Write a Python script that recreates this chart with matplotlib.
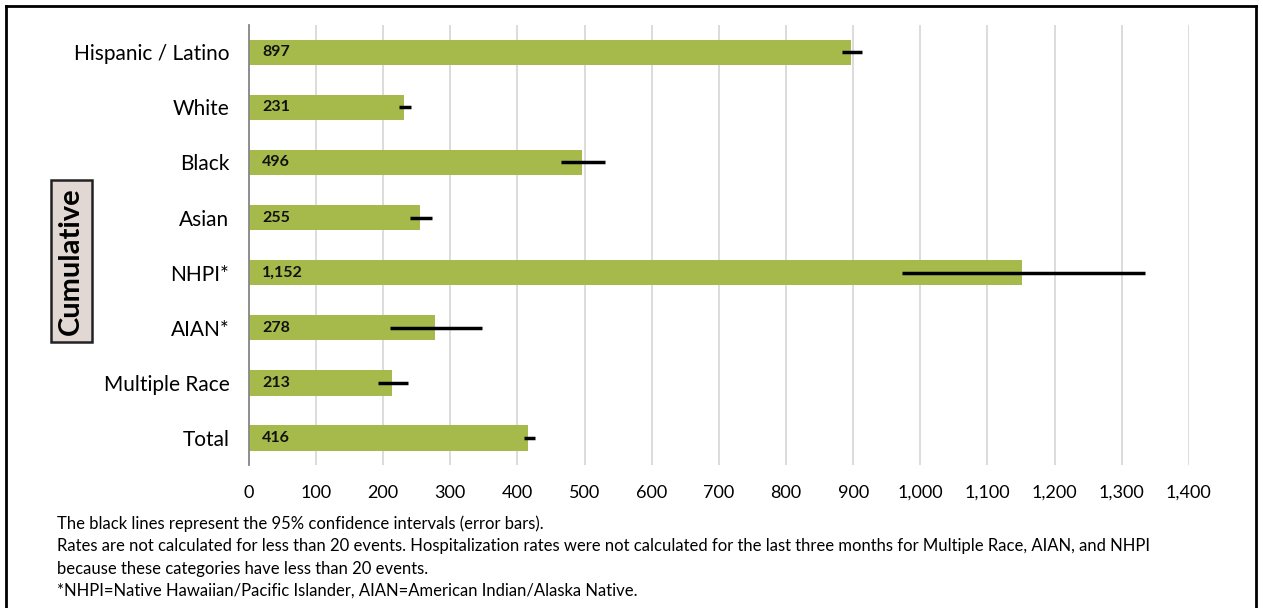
import numpy as np
import matplotlib.pyplot as plt
from matplotlib.lines import Line2D
from matplotlib.ticker import FuncFormatter

plt.rcParams['font.family'] = ['Lato', 'DejaVu Sans']

# data
categories = ['Hispanic / Latino', 'White', 'Black', 'Asian', 'NHPI*', 'AIAN*',
              'Multiple Race', 'Total']
rates = [897, 231, 496, 255, 1152, 278, 213, 416]
ci_low = [883, 223, 465, 240, 973, 210, 192, 410]
ci_high = [913, 241, 530, 273, 1334, 347, 237, 426]

notes = [
    'The black lines represent the 95% confidence intervals (error bars).',
    'Rates are not calculated for less than 20 events. Hospitalization rates were not calculated '
    'for the last three months for Multiple Race, AIAN, and NHPI',
    'because these categories have less than 20 events.',
    '*NHPI=Native Hawaiian/Pacific Islander, AIAN=American Indian/Alaska Native.',
]

fig = plt.figure(figsize=(12.63, 6.08), dpi=100)
ax = fig.add_axes([0.197, 0.235, 0.7443, 0.724])

y = np.arange(len(categories))
ax.barh(y, rates, height=0.47, color='#a5ba4b', zorder=2)

# confidence interval lines
for yi, lo, hi in zip(y, ci_low, ci_high):
    ax.plot([lo, hi], [yi, yi], color='black', lw=2.5, solid_capstyle='butt', zorder=3)

# value labels inside bars
for yi, v in zip(y, rates):
    ax.text(20, yi, f'{v:,}', va='center', ha='left', fontsize=11.5,
            fontweight='bold', color='#111111', zorder=4)

ax.set_xlim(0, 1400)
ax.set_ylim(len(categories) - 0.5, -0.5)
ax.set_xticks(np.arange(0, 1401, 100))
ax.xaxis.set_major_formatter(FuncFormatter(lambda v, p: f'{int(v):,}'))
ax.set_yticks(y)
ax.set_yticklabels(categories, fontsize=15)
ax.tick_params(axis='x', labelsize=13, length=0, pad=14)
ax.tick_params(axis='y', length=0, pad=14)
ax.grid(axis='x', color='#d9d9d9', lw=1.3, zorder=0)
for s in ['top', 'right', 'bottom']:
    ax.spines[s].set_visible(False)
ax.spines['left'].set_color('#868686')
ax.spines['left'].set_linewidth(1.3)

# "Cumulative" label box
fig.text(0.0565, 0.571, 'Cumulative', rotation=90, ha='center', va='center',
         fontsize=21, fontweight='bold', color='black',
         bbox=dict(boxstyle='square,pad=0.25', facecolor='#e2d8d3',
                   edgecolor='#222222', lw=1.8))

# footnotes
for i, line in enumerate(notes):
    fig.text(57 / 1263, 1 - (524 + i * 22.3) / 608, line, ha='left', va='center',
             fontsize=12, color='black')

# outer frame
x0, x1 = 6 / 1263, 1256 / 1263
y1 = 1 - 6 / 608
fig.add_artist(Line2D([x0, x1], [y1, y1], transform=fig.transFigure, color='black', lw=2))
fig.add_artist(Line2D([x0, x0], [0, y1], transform=fig.transFigure, color='black', lw=2))
fig.add_artist(Line2D([x1, x1], [0, y1], transform=fig.transFigure, color='black', lw=2))

fig.savefig('out.png', dpi=100)
